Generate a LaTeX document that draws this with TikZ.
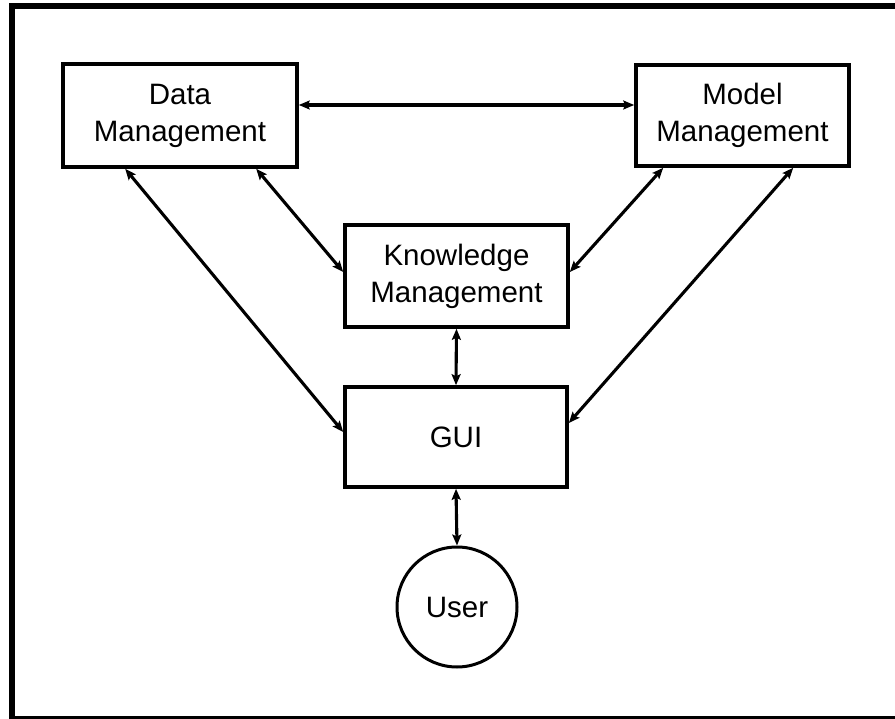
\documentclass[tikz,border=0pt]{standalone}
\usepackage{fontspec}
\setmainfont{Liberation Sans}
\usetikzlibrary{arrows.meta}

\tikzset{
  box/.style={draw, line width=3.6pt, rectangle, inner sep=0pt, align=center,
    font=\fontsize{29.5}{37}\selectfont},
  userbubble/.style={draw, line width=3pt, circle, inner sep=0pt, minimum size=120pt,
    font=\fontsize{29.5}{37}\selectfont},
  link/.style={line width=3.1pt, {Stealth[length=11pt,width=9pt,inset=2pt]}-{Stealth[length=11pt,width=9pt,inset=2pt]}},
}

\begin{document}
\begin{tikzpicture}[x=1pt,y=-1pt]
  \useasboundingbox (0,0) rectangle (895,719);
  \clip (0,0) rectangle (895,719);
  \fill[white] (0,0) rectangle (895,719);
  % outer frame
  \draw[line width=6pt] (12,6) rectangle (910,719);

  % components
  \node[box, minimum width=234pt, minimum height=103pt] (dm) at (180,115.5) {Data\\Management};
  \node[box, minimum width=213pt, minimum height=101pt] (mm) at (742.5,115.5) {Model\\Management};
  \node[box, minimum width=223pt, minimum height=102pt] (km) at (456.5,276) {Knowledge\\Management};
  \node[box, minimum width=222pt, minimum height=100pt] (gui) at (456,437) {GUI};
  \node[userbubble] (user) at (457,607) {User};

  % interactions
  \draw[link] ([yshift=10.5pt]dm.east) -- ([yshift=10.5pt]mm.west);
  \draw[link] ([xshift=64pt]dm.south west) -- ([yshift=5pt]gui.west);
  \draw[link] ([xshift=195pt]dm.south west) -- ([yshift=4pt]km.west);
  \draw[link] ([xshift=29pt]mm.south west) -- ([yshift=4pt]km.east);
  \draw[link] ([xshift=159pt]mm.south west) -- ([yshift=14pt]gui.east);
  \draw[link] (km.south) -- (gui.north);
  \draw[link] (gui.south) -- (user.north);
\end{tikzpicture}
\end{document}
